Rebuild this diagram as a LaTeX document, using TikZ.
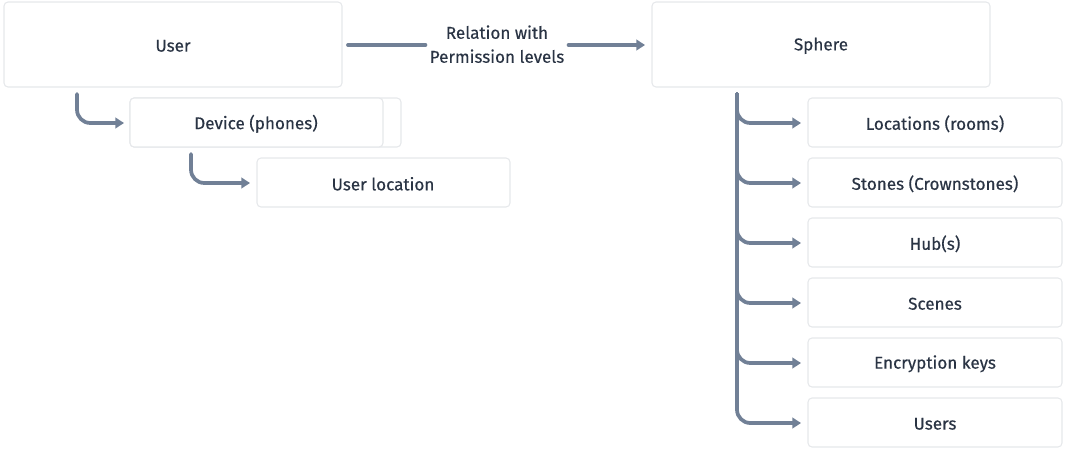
\documentclass[tikz,border=0pt]{standalone}
\usepackage{fontspec}
\setmainfont{Fira Sans}[FakeBold=0.4]
\usetikzlibrary{arrows.meta,calc}
\definecolor{ink}{HTML}{2A3444}
\definecolor{wire}{HTML}{718096}
\definecolor{edge}{HTML}{E6E8EB}
\begin{document}
\begin{tikzpicture}[x=0.75pt,y=-0.75pt,
  card/.style={draw=edge,line width=0.8pt,fill=white,rounded corners=3pt},
  label/.style={text=ink,font=\fontsize{12.8}{18}\selectfont,yshift=-0.6pt},
  link/.style={draw=wire,line width=2.8pt,line cap=round,
    -{Triangle[length=6.5pt,width=8pt,line cap=butt]},rounded corners=10pt},
  plain/.style={draw=wire,line width=2.8pt,line cap=round}]
\useasboundingbox (0,0) rectangle (1066,454);
% top row: User and Sphere
\draw[card] (4,2) rectangle (342,87);
\node[label] (user) at (173,45) {User};
\draw[card] (652,2) rectangle (990,87);
\node[label] (sphere) at (821,45) {Sphere};
\coordinate (userR) at (348,45);
\coordinate (userB) at (77,94);
\coordinate (sphereL) at (645,45);
\coordinate (sphereB) at (737,94);
\node[label,align=center,inner sep=0pt,yshift=1.2pt] (rel) at (497,45) {Relation with\\Permission levels};
% user side: device and user location
\draw[card] (130,98) rectangle (401,147);
\draw[card] (130,98) rectangle (383,147);
\node[label] (device) at (256,123) {Device (phones)};
\coordinate (devL) at (124,123);
\coordinate (devB) at (191,154);
\draw[card] (257,158) rectangle (510,207);
\node[label] (uloc) at (383,183) {User location};
\coordinate (ulocL) at (250,183);
% sphere children
\foreach \n/\t [count=\i from 0] in {loc/Locations (rooms),stones/Stones (Crownstones),hub/Hub(s),scenes/Scenes,keys/Encryption keys,users/Users}{
  \draw[card] (808,98+60*\i) rectangle (1062,147+60*\i);
  \node[label] (\n) at (935,123+60*\i) {\t};
  \coordinate (\n L) at (801,123+60*\i);
}
% connectors: the relation arrow runs on the User/Sphere centre line
\draw[plain] (userR) -- ($(rel.west |- userR)+(-4,0)$);
\draw[link] ($(rel.east |- sphereL)+(4,0)$) -- (sphereL);
\draw[link] (userB) |- (devL);
\draw[link] (devB) |- (ulocL);
\foreach \n in {loc,stones,hub,scenes,keys,users}
  \draw[link] (sphereB) |- (\n L);
\end{tikzpicture}
\end{document}
